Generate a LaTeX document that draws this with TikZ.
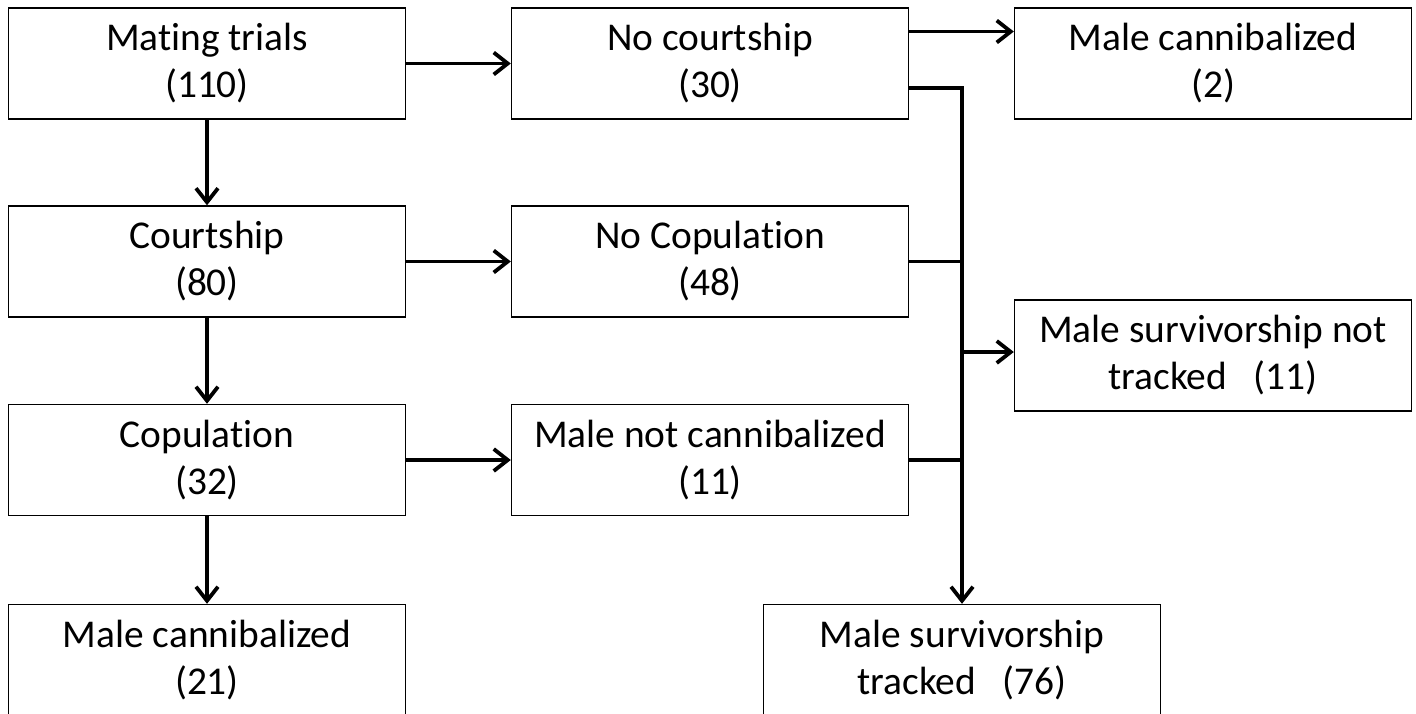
\documentclass[tikz,border=0pt]{standalone}
\usepackage{fontspec}
\setmainfont{Carlito}[Ligatures=NoCommon]
\usetikzlibrary{arrows.meta}

\begin{document}
\begin{tikzpicture}[x=0.5pt,y=-0.5pt,
		box/.style={draw,line width=0.7pt,minimum width=198.5pt,minimum height=55.5pt,inner sep=0pt,align=center,font=\fontsize{19.7}{23.5}\selectfont},
		arr/.style={-{Straight Barb[length=7pt,width=11pt]},line width=1.9pt},
		link/.style={line width=1.9pt}]
			\useasboundingbox (0,0) rectangle (1416,713);
			% left column
			\node(trials) at (207,63.5)[box]{Mating trials\\(110)};
			\node(court) at (207,261.5)[box]{Courtship\\(80)};
			\node(cop) at (207,460)[box]{Copulation\\(32)};
			\node(cannibB) at (207,660)[box]{Male cannibalized\\(21)};
			% middle column
			\node(nocourt) at (710,63.5)[box]{No courtship\\(30)};
			\node(nocop) at (710,261.5)[box]{No Copulation\\(48)};
			\node(notcannib) at (710,460)[box]{Male not cannibalized\\(11)};
			% right column
			\node(cannibA) at (1213,63.5)[box]{Male cannibalized\\(2)};
			\node(nottracked) at (1213,355.5)[box]{Male survivorship not\\tracked\ \ \ (11)};
			\node(tracked) at (962,660)[box]{Male survivorship\\tracked\ \ \ (76)};
			
			\draw[arr](trials) to (court);
			\draw[arr](court) to (cop);
			\draw[arr](cop) to (cannibB);
			\draw[arr](trials) to (nocourt);
			\draw[arr](court) to (nocop);
			\draw[arr](cop) to (notcannib);
			\draw[arr]([yshift=16pt]nocourt.east) to ([yshift=16pt]cannibA.west);
			\draw[arr]([yshift=-12.25pt]nocourt.east) -| (tracked.north);
			\draw[link](nocop.east) to (nocop.east -| tracked.north);
			\draw[link](notcannib.east) to (notcannib.east -| tracked.north);
			\draw[arr]([yshift=1.75pt]nottracked.west -| tracked.north) to ([yshift=1.75pt]nottracked.west);
		\end{tikzpicture}
\end{document}
